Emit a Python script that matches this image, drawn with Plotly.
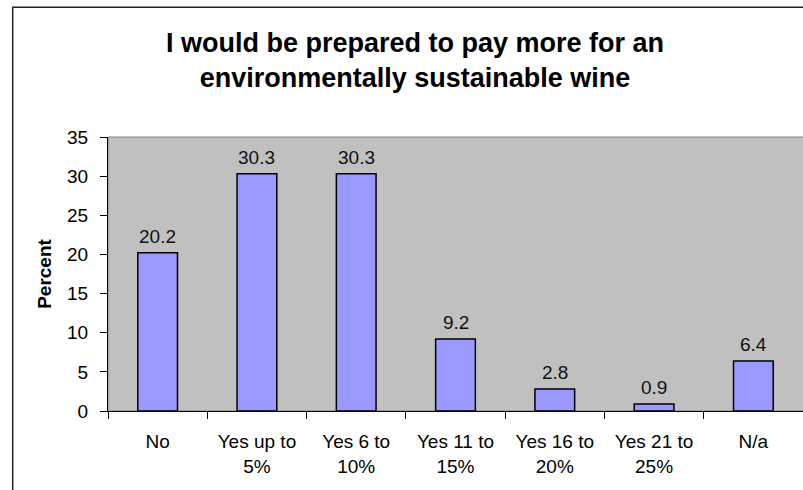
import plotly.graph_objects as go

categories = ["No", "Yes up to<br>5%", "Yes 6 to<br>10%", "Yes 11 to<br>15%",
              "Yes 16 to<br>20%", "Yes 21 to<br>25%", "N/a"]
values = [20.2, 30.3, 30.3, 9.2, 2.8, 0.9, 6.4]
value_labels = ["20.2", "30.3", "30.3", "9.2", "2.8", "0.9", "6.4"]
y_ticks = [0, 5, 10, 15, 20, 25, 30, 35]

FONT = "Liberation Sans, Arial, sans-serif"

fig = go.Figure()
fig.add_trace(go.Bar(
    x=categories, y=values,
    marker=dict(color="#9999FF", line=dict(color="#000000", width=1.5)),
    hoverinfo="skip",
))

for c, v, t in zip(categories, values, value_labels):
    fig.add_annotation(x=c, y=v, text=t, showarrow=False, yanchor="bottom",
                       yshift=4, font=dict(family=FONT, size=19, color="#111111"))

L, T, B = 108, 137, 79
W, H = 803, 490
pw = W - L
ph = H - T - B

def px_x(px):
    return (px - L) / pw

def px_y(py):
    return (H - B - py) / ph

# outer chart border (extends beyond the visible crop on right/bottom)
fig.add_shape(type="rect", xref="paper", yref="paper",
              x0=px_x(12.7), x1=px_x(830), y0=px_y(520), y1=px_y(7.3),
              line=dict(color="#222222", width=1.5), fillcolor="rgba(0,0,0,0)",
              layer="below")
# plot area border
fig.add_shape(type="rect", xref="paper", yref="paper",
              x0=0, x1=1.01, y0=0, y1=1,
              line=dict(color="#808080", width=1), fillcolor="rgba(0,0,0,0)",
              layer="below")

fig.update_layout(
    width=W, height=H,
    margin=dict(l=L, r=0, t=T, b=B, autoexpand=False),
    paper_bgcolor="white", plot_bgcolor="#C0C0C0",
    bargap=0.6,
    showlegend=False,
    title=dict(text="I would be prepared to pay more for an<br>environmentally sustainable wine",
               x=415 / W, xanchor="center", y=1 - 51.5 / H, yanchor="middle",
               font=dict(family=FONT, size=27, color="#000000", weight="bold")),
    font=dict(family=FONT, size=19, color="#000000"),
)

fig.update_xaxes(
    automargin=False,
    showline=True, linecolor="#000000", linewidth=1,
    ticks="outside", ticklen=7, tickcolor="#000000", tickwidth=1,
    tickson="boundaries", showgrid=False,
    tickfont=dict(family=FONT, size=19, color="#000000"),
    ticklabelstandoff=13,
)
fig.update_yaxes(
    automargin=False,
    range=[0, 35], tickvals=y_ticks, showline=True, linecolor="#000000", linewidth=1,
    ticks="outside", ticklen=7, tickcolor="#000000", tickwidth=1,
    showgrid=False, zeroline=False,
    tickfont=dict(family=FONT, size=19, color="#000000"),
    ticklabelstandoff=8,
    title=dict(text="<b>Percent</b>", font=dict(family=FONT, size=19, color="#000000"),
               standoff=10),
)

fig.write_html("out.html", config={"displayModeBar": False},
               post_script="document.body.style.margin='0';document.body.style.overflow='hidden';")
